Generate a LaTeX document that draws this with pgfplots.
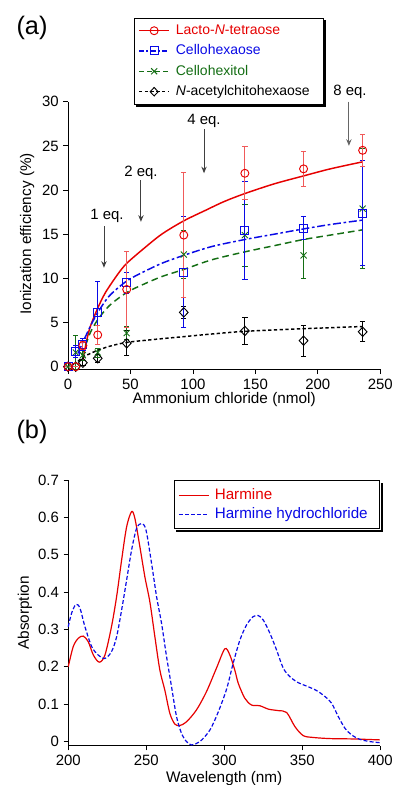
\documentclass[border=0pt]{standalone}
\usepackage{fontspec}
\setmainfont{Liberation Sans}
\usepackage{pgfplots}
\pgfplotsset{compat=1.18}
\usetikzlibrary{arrows.meta}
\definecolor{cR}{RGB}{230,0,0}
\definecolor{cRe}{RGB}{240,90,90}
\definecolor{cB}{RGB}{10,10,230}
\definecolor{cG}{RGB}{20,110,20}
\definecolor{cK}{RGB}{0,0,0}
\begin{document}
\begin{tikzpicture}
\useasboundingbox (0pt,0pt) rectangle (296.25pt,588.75pt);
\pgfplotsset{
  common/.style={
    scale only axis,
    axis x line*=bottom, axis y line*=left,
    axis line style={-, line width=0.7pt},
    tick align=outside,
    major tick length=3.5pt,
    tick style={black, line width=0.6pt},
    /pgf/number format/assume math mode=true,
    ticklabel style={font=\fontsize{11.2}{13}\selectfont},
    label style={font=\fontsize{11.5}{13}\selectfont},
    clip=false,
  },
  ebar/.style={error bars/y dir=both, error bars/y explicit,
     error bars/error bar style={line width=0.7pt, #1},
     error bars/error mark options={rotate=90, mark size=2pt, line width=0.7pt, #1}},
}
% Panel (a)
\begin{axis}[common,
  at={(51pt,311.74pt)}, anchor=south west,
  width=234.2pt, height=200.7pt,
  xmin=0, xmax=250, ymin=-0.3, ymax=30,
  xtick={0,50,100,150,200,250},
  ytick={0,5,10,15,20,25,30},
  xlabel={Ammonium chloride (nmol)},
  ylabel={Ionization efficiency (\%)},
  xlabel style={at={(axis description cs:0.5,-0.111)}, anchor=center},
  ylabel style={at={(axis description cs:-0.131,0.506)}, anchor=center},
  legend style={at={(axis description cs:0.211,1.313)}, anchor=north west,
     name=legA,
     draw=black, line width=0.8pt, fill=white,
     font=\fontsize{10.5}{12}\selectfont, inner xsep=3pt, inner ysep=2.8pt,
     row sep=2.2pt, cells={anchor=west},
     /tikz/every odd column/.append style={column sep=2.5pt}},
  legend image code/.code={\draw[mark repeat=2,mark phase=2] plot coordinates {(0pt,0pt)(11.25pt,0pt)(22.5pt,0pt)};},
]
% fit curves
\addplot[cR, line width=1.1pt, smooth, forget plot] coordinates {
 (12,0.8) (15,3.0) (18,4.6) (23.7,6.6) (30,8.4) (40,10.5) (47,11.7) (60,13.3) (75,15.0)
 (92.5,16.5) (110,17.7) (125,18.7) (141.5,19.6) (165,20.7) (188.5,21.6) (210,22.4) (236,23.2)};
\addplot[cB, line width=1.1pt, smooth, dash pattern=on 6pt off 2pt on 2pt off 2pt, forget plot] coordinates {
 (8,1.5) (12,2.8) (18,4.6) (23.7,6.1) (33,8.0) (47,9.7) (60,10.7) (75,11.7) (92.5,12.6)
 (115,13.6) (141.5,14.4) (165,15.0) (188.5,15.6) (210,16.1) (236,16.6)};
\addplot[cG, line width=1.1pt, smooth, dash pattern=on 5pt off 3pt, forget plot] coordinates {
 (11,1.3) (15,2.8) (18,3.9) (23.7,5.3) (33,6.9) (47,8.4) (60,9.3) (75,10.2) (92.5,11.0)
 (115,12.1) (141.5,13.0) (165,13.7) (188.5,14.4) (210,14.9) (236,15.5)};
\addplot[cK, line width=1.1pt, smooth, dash pattern=on 2.5pt off 1.8pt, forget plot] coordinates {
 (8,0.6) (12,1.1) (18,1.5) (23.7,1.85) (33,2.3) (47,2.75) (70,3.1) (92.5,3.4) (115,3.7)
 (141.5,4.0) (188.5,4.3) (236,4.55)};
% data with error bars
\addplot[forget plot, only marks, mark=diamond, mark size=3.5pt, cK, mark options={line width=0.7pt, fill=white, xscale=1.25}, ebar={cK}] coordinates {
 (0,0) +- (0,0) (6.2,0) +- (0,0) (11.9,0.45) +- (0,0.3) (23.8,0.95) +- (0,0.45) (47,2.65) +- (0,1.4)
 (92.7,6.15) +- (0,0.7) (141.6,4.05) +- (0,1.5) (188.6,2.95) +- (0,1.75) (235.9,3.95) +- (0,1.15)};
\addplot[forget plot, only marks, mark=x, mark size=3.2pt, cG, mark options={line width=0.7pt}, ebar={cG}] coordinates {
 (0,0) +- (0,0) (6.2,1.6) +- (0,1.9) (11.9,1.3) +- (0,0.6) (23.8,1.6) +- (0,0.5) (47,3.8) +- (0,0.7)
 (92.7,12.7) +- (0,2.7) (141.6,14.9) +- (0,3.5) (188.6,12.6) +- (0,2.6) (235.9,17.9) +- (0,6.8)};
\addplot[forget plot, only marks, mark=square, mark size=3pt, cB, mark options={line width=0.7pt}, ebar={cB}] coordinates {
 (0,0) +- (0,0) (6.2,1.7) +- (0,0.7) (11.9,2.5) +- (0,0.7) (23.8,6.1) +- (0,3.6) (47,9.5) +- (0,1.2)
 (92.7,10.7) +- (0,6.3) (141.6,15.4) +- (0,5.55) (188.6,15.7) +- (0,1.3) (235.9,17.4) +- (0,5.9)};
\addplot[forget plot, only marks, mark=o, mark size=3pt, cR, mark options={line width=0.7pt}, ebar={cRe}] coordinates {
 (0,0) +- (0,0) (6.2,0) +- (0,0) (11.9,2.4) +- (0,0.5) (23.8,3.6) +- (0,1.1) (47,8.75) +- (0,4.3)
 (92.7,14.9) +- (0,7.1) (141.6,21.9) +- (0,3.0) (188.6,22.4) +- (0,1.95) (235.9,24.5) +- (0,1.85)};
% legend
\addlegendimage{cR, line width=1.1pt, mark=o, mark size=3pt, mark options={solid, line width=0.7pt}}
\addlegendentry{\textcolor{cR}{Lacto-\textit{N}-tetraose}}
\addlegendimage{cB, line width=1.1pt, dash pattern=on 4pt off 1.5pt on 1.5pt off 1.5pt, mark=square, mark size=3pt, mark options={solid, line width=0.7pt}}
\addlegendentry{\textcolor{cB}{Cellohexaose}}
\addlegendimage{cG, line width=1.1pt, dash pattern=on 4pt off 2pt, mark=x, mark size=3.2pt, mark options={solid, line width=0.7pt}}
\addlegendentry{\textcolor{cG}{Cellohexitol}}
\addlegendimage{cK, line width=1.1pt, dash pattern=on 2.5pt off 1.8pt, mark=diamond, mark size=3.2pt, mark options={solid, line width=0.7pt, fill=white, xscale=1.25}}
\addlegendentry{\textit{N}-acetylchitohexaose\hspace*{5pt}}
% annotations
\begin{scope}[font=\fontsize{11.2}{13}\selectfont]
\node at (axis cs:31.2,17.06) {1 eq.};
\draw[black!75, line width=0.7pt, -{Stealth[length=5pt,width=4pt]}] (axis cs:28.8,15.9) -- (axis cs:28.8,11.2);
\node at (axis cs:58.4,21.9) {2 eq.};
\draw[black!75, line width=0.7pt, -{Stealth[length=5pt,width=4pt]}] (axis cs:58.4,21.1) -- (axis cs:58.4,16.4);
\node at (axis cs:108.9,27.8) {4 eq.};
\draw[black!75, line width=0.7pt, -{Stealth[length=5pt,width=4pt]}] (axis cs:108.9,26.9) -- (axis cs:108.9,21.9);
\node at (axis cs:225.7,31.1) {8 eq.};
\draw[black!60, line width=0.7pt, -{Stealth[length=5pt,width=4pt]}] (axis cs:224.9,30.0) -- (axis cs:224.9,25.0);
\end{scope}
\end{axis}
\fill[black] ([shift={(0.4pt,-1.8pt)}]legA.north east) rectangle ([shift={(2pt,-2pt)}]legA.south east);
\fill[black] ([shift={(1.8pt,-0.4pt)}]legA.south west) rectangle ([shift={(2pt,-2pt)}]legA.south east);
% Panel (b)
\begin{axis}[common,
  at={(51.2pt,29.5pt)}, anchor=south west,
  width=234pt, height=199.05pt,
  xmin=200, xmax=400, ymin=-0.012, ymax=0.7,
  xtick={200,250,300,350,400},
  ytick={0,0.1,0.2,0.3,0.4,0.5,0.6,0.7},
  yticklabels={0,0.1,0.2,0.3,0.4,0.5,0.6,0.7},
  xlabel={Wavelength (nm)},
  ylabel={Absorption},
  xlabel style={at={(axis description cs:0.5,-0.122)}, anchor=center},
  ylabel style={at={(axis description cs:-0.139,0.5)}, anchor=center},
  legend style={at={(axis description cs:1.0,1.0)}, anchor=north east,
     name=legB,
     draw=black, line width=0.8pt, fill=white,
     font=\fontsize{11.4}{13}\selectfont, inner xsep=3pt, inner ysep=4pt,
     row sep=0.5pt, cells={anchor=west},
     /tikz/every odd column/.append style={column sep=2pt}},
  legend image code/.code={\draw plot coordinates {(0pt,0pt)(22.5pt,0pt)};},
]
\addplot[cR, line width=0.9pt, smooth] coordinates {
 (200.0,0.200) (203.2,0.254) (206.4,0.276) (209.6,0.282) (212.8,0.267) (216.1,0.231) (219.9,0.212)
 (223.5,0.231) (227.7,0.307) (231.0,0.388) (234.2,0.486) (237.4,0.575) (240.6,0.616) (242.7,0.598)
 (245.9,0.522) (249.1,0.441) (252.3,0.374) (255.5,0.281) (258.7,0.191) (261.9,0.137) (265.1,0.075)
 (268.3,0.046) (271.5,0.042) (275.8,0.052) (282.2,0.084) (288.6,0.133) (295.0,0.196) (300.4,0.248)
 (303.6,0.231) (306.8,0.190) (309.0,0.155) (313.2,0.115) (317.5,0.097) (322.9,0.095) (328.2,0.086)
 (334.6,0.082) (340.0,0.077) (345.3,0.039) (350.6,0.015) (357.0,0.010) (367.7,0.007) (382.7,0.006) (399.8,0.0035)};
\addlegendentry{\textcolor{cR}{Harmine}}
\addplot[cB, line width=0.9pt, smooth, dash pattern=on 3pt off 1.6pt] coordinates {
 (200.0,0.307) (202.1,0.343) (204.9,0.367) (207.5,0.357) (210.7,0.307) (215.0,0.254) (219.2,0.231)
 (223.5,0.222) (227.7,0.240) (231.0,0.280) (234.2,0.352) (237.4,0.432) (240.6,0.513) (243.8,0.571)
 (247.0,0.584) (249.8,0.567) (253.4,0.477) (256.6,0.388) (259.8,0.316) (263.0,0.227) (266.2,0.146)
 (269.4,0.066) (272.6,0.021) (275.8,-0.001) (279.0,-0.010) (284.4,-0.001) (290.8,0.030) (296.1,0.078)
 (301.5,0.140) (305.7,0.209) (310.0,0.271) (314.3,0.312) (318.5,0.334) (321.8,0.337) (325.0,0.325)
 (329.2,0.290) (333.5,0.245) (337.8,0.196) (342.1,0.173) (347.4,0.157) (352.7,0.148) (359.1,0.136)
 (364.5,0.120) (368.8,0.102) (373.1,0.066) (377.3,0.035) (381.6,0.017) (386.9,0.005) (393.3,-0.001) (399.8,-0.004)};
\addlegendentry{\textcolor{cB}{Harmine hydrochloride}\hspace*{4pt}}
\end{axis}
\fill[black] ([shift={(0.4pt,-1.8pt)}]legB.north east) rectangle ([shift={(2pt,-2pt)}]legB.south east);
\fill[black] ([shift={(1.8pt,-0.4pt)}]legB.south west) rectangle ([shift={(2pt,-2pt)}]legB.south east);
\node[font=\fontsize{19}{22}\selectfont] at (24pt,567.75pt) {(a)};
\node[font=\fontsize{19}{22}\selectfont] at (24pt,264.75pt) {(b)};
\end{tikzpicture}
\end{document}
